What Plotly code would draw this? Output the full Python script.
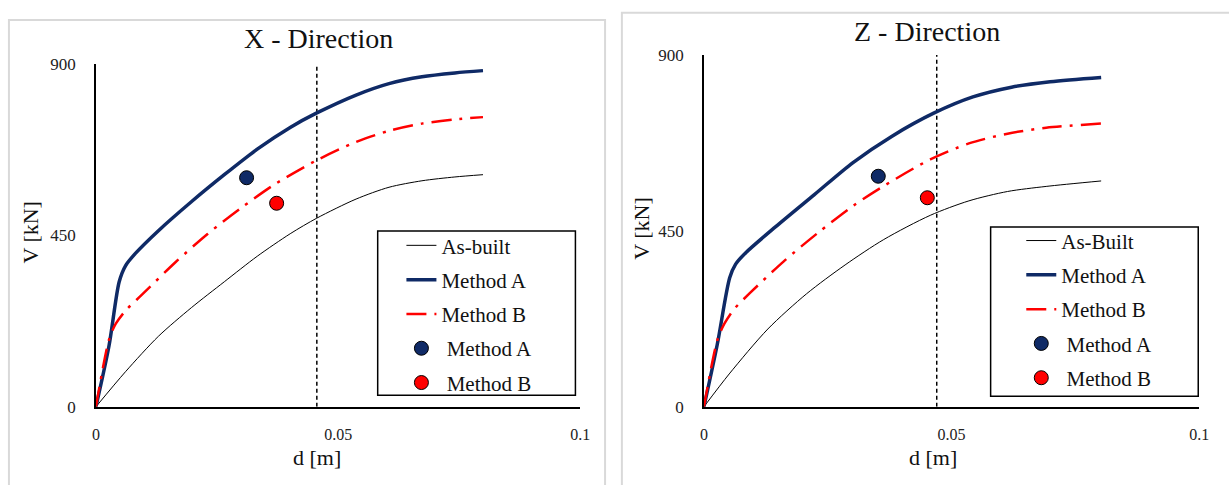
import plotly.graph_objects as go

W, H = 1229, 485

# ---------------- data ----------------
# X - Direction
x_asbuilt_d = [0, 0.0061, 0.0129, 0.0197, 0.0265, 0.0333, 0.0401, 0.0456, 0.0537, 0.0605, 0.0673, 0.0741, 0.0799]
x_asbuilt_v = [0, 92, 185, 260, 328, 395, 454, 495, 545, 576, 593, 603, 609]
x_methA_d = [0, 0.0027, 0.0048, 0.0061, 0.0082, 0.0129, 0.0197, 0.0265, 0.0333, 0.0401, 0.0456, 0.0537, 0.0605, 0.0673, 0.0741, 0.0799]
x_methA_v = [0, 160, 328, 370, 403, 462, 538, 609, 676, 733, 771, 818, 848, 866, 876, 882]
x_methB_d = [0, 0.0027, 0.0041, 0.0061, 0.0095, 0.0163, 0.0231, 0.0299, 0.0367, 0.0456, 0.0537, 0.0605, 0.0673, 0.0741, 0.0799]
x_methB_v = [0, 176, 218, 252, 294, 378, 454, 521, 582, 647, 695, 724, 743, 754, 760]
x_ptA_d, x_ptA_v = [0.0311], [601]
x_ptB_d, x_ptB_v = [0.0373], [534]
x_limit_d = 0.0456

# Z - Direction
z_asbuilt_d = [0, 0.0051, 0.0129, 0.0207, 0.0285, 0.0363, 0.0457, 0.0535, 0.0613, 0.0691, 0.0802]
z_asbuilt_v = [0, 84, 199, 289, 363, 428, 490, 527, 551, 564, 578]
z_methA_d = [0, 0.0027, 0.0052, 0.0064, 0.0085, 0.0145, 0.0223, 0.0301, 0.0379, 0.0465, 0.0543, 0.0621, 0.0699, 0.0802]
z_methA_v = [0, 160, 330, 365, 395, 461, 543, 625, 692, 752, 793, 818, 832, 843]
z_methB_d = [0, 0.0027, 0.0041, 0.0061, 0.0092, 0.0160, 0.0230, 0.0301, 0.0363, 0.0457, 0.0535, 0.0613, 0.0691, 0.0802]
z_methB_v = [0, 170, 212, 250, 290, 371, 445, 514, 565, 633, 674, 699, 714, 725]
z_ptA_d, z_ptA_v = [0.0352], [590]
z_ptB_d, z_ptB_v = [0.0451], [535]
z_limit_d = 0.0470

x_ticks = [0, 0.05, 0.1]
x_ticktext = ["0", "0.05", "0.1"]
y_ticks = [0, 450, 900]

# ---------------- styles ----------------
NAVY = "#0F2A66"
RED = "#FF0000"
SERIF = "Liberation Serif"

fig = go.Figure()

def add_panel(xa, ya, leg, d_ab, v_ab, d_a, v_a, d_b, v_b, pa, pb, lim, ab_name):
    fig.add_trace(go.Scatter(x=[lim, lim], y=[0, 900], mode="lines", xaxis=xa, yaxis=ya,
                             line=dict(color="black", width=1.5, dash="4px,3px"),
                             showlegend=False, hoverinfo="skip"))
    fig.add_trace(go.Scatter(x=d_ab, y=v_ab, mode="lines", name=ab_name, xaxis=xa, yaxis=ya,
                             line=dict(color="black", width=1, shape="spline", smoothing=0.8),
                             legend=leg, legendgroup=leg + "1"))
    fig.add_trace(go.Scatter(x=d_a, y=v_a, mode="lines", name="Method A", xaxis=xa, yaxis=ya,
                             line=dict(color=NAVY, width=3.5, shape="spline", smoothing=0.8),
                             legend=leg, legendgroup=leg + "2"))
    fig.add_trace(go.Scatter(x=d_b, y=v_b, mode="lines", name="Method B", xaxis=xa, yaxis=ya,
                             line=dict(color=RED, width=2.5, dash="20px,8px,3px,8px",
                                       shape="spline", smoothing=0.8),
                             legend=leg, legendgroup=leg + "3"))
    fig.add_trace(go.Scatter(x=pa[0], y=pa[1], mode="markers", name="\u00a0Method A", xaxis=xa, yaxis=ya,
                             marker=dict(color=NAVY, size=14, line=dict(color="black", width=1)),
                             legend=leg, legendgroup=leg + "4"))
    fig.add_trace(go.Scatter(x=pb[0], y=pb[1], mode="markers", name="\u00a0Method B", xaxis=xa, yaxis=ya,
                             marker=dict(color=RED, size=14, line=dict(color="black", width=1)),
                             legend=leg, legendgroup=leg + "5"))

add_panel("x", "y", "legend", x_asbuilt_d, x_asbuilt_v, x_methA_d, x_methA_v, x_methB_d, x_methB_v,
          (x_ptA_d, x_ptA_v), (x_ptB_d, x_ptB_v), x_limit_d, "As-built")
add_panel("x2", "y2", "legend2", z_asbuilt_d, z_asbuilt_v, z_methA_d, z_methA_v, z_methB_d, z_methB_v,
          (z_ptA_d, z_ptA_v), (z_ptB_d, z_ptB_v), z_limit_d, "As-Built")

def px(v):
    return v / W

def py(v):
    return (H - v) / H

xcommon = dict(range=[0, 0.1], tickvals=x_ticks, ticktext=x_ticktext, showgrid=False, zeroline=False,
               showline=True, linecolor="black", linewidth=2, ticks="", ticklabelstandoff=12,
               tickfont=dict(family=SERIF, size=16, color="#222"), fixedrange=True)
ycommon = dict(range=[0, 900], tickvals=y_ticks, showgrid=False, zeroline=False,
               showline=True, linecolor="black", linewidth=1.5, ticks="", ticklabelstandoff=15,
               tickfont=dict(family=SERIF, size=17, color="#222"), fixedrange=True)

legcommon = dict(bgcolor="rgba(0,0,0,0)", borderwidth=0, font=dict(family=SERIF, size=21, color="#111"),
                 tracegroupgap=4, xanchor="left", yanchor="top", itemclick=False)

fig.update_layout(
    width=W, height=H, autosize=False,
    margin=dict(l=0, r=0, t=0, b=0),
    paper_bgcolor="white", plot_bgcolor="rgba(0,0,0,0)",
    xaxis=dict(domain=[px(93), px(583)], anchor="y", **xcommon),
    yaxis=dict(domain=[py(414), py(57)], anchor="x", **ycommon),
    xaxis2=dict(domain=[px(708), px(1209)], anchor="y2", **xcommon),
    yaxis2=dict(domain=[py(414), py(48)], anchor="x2", **ycommon),
    legend=dict(x=px(402), y=py(225), **legcommon),
    legend2=dict(x=px(1029), y=py(220), **legcommon),
    shapes=[
        dict(type="rect", xref="paper", yref="paper", x0=px(5), x1=px(608), y0=-0.2, y1=py(11.5),
             line=dict(color="#D9D9D9", width=2), layer="below"),
        dict(type="rect", xref="paper", yref="paper", x0=px(625), x1=1.2, y0=-0.2, y1=py(4),
             line=dict(color="#D9D9D9", width=2), layer="below"),
        dict(type="rect", xref="paper", yref="paper", x0=px(378), x1=px(578), y0=py(402), y1=py(231),
             line=dict(color="black", width=1.5), fillcolor="white", layer="below"),
        dict(type="rect", xref="paper", yref="paper", x0=px(998), x1=px(1208), y0=py(403), y1=py(227),
             line=dict(color="black", width=1.5), fillcolor="white", layer="below"),
    ],
    annotations=[
        dict(text="X - Direction", x=px(318), y=py(31), xref="paper", yref="paper", showarrow=False,
             font=dict(family=SERIF, size=28, color="#111"), xanchor="center", yanchor="middle"),
        dict(text="Z - Direction", x=px(934), y=py(23), xref="paper", yref="paper", showarrow=False,
             font=dict(family=SERIF, size=28, color="#111"), xanchor="center", yanchor="middle"),
        dict(text="d [m]", x=px(317), y=py(467), xref="paper", yref="paper", showarrow=False,
             font=dict(family=SERIF, size=22, color="#111"), xanchor="center", yanchor="middle"),
        dict(text="d [m]", x=px(940), y=py(467), xref="paper", yref="paper", showarrow=False,
             font=dict(family=SERIF, size=22, color="#111"), xanchor="center", yanchor="middle"),
        dict(text="V [kN]", x=px(27), y=py(232), xref="paper", yref="paper", showarrow=False, textangle=-90,
             font=dict(family=SERIF, size=22, color="#111"), xanchor="center", yanchor="middle"),
        dict(text="V [kN]", x=px(644), y=py(228), xref="paper", yref="paper", showarrow=False, textangle=-90,
             font=dict(family=SERIF, size=22, color="#111"), xanchor="center", yanchor="middle"),
    ],
)

fig.write_html("out.html", post_script="document.body.style.margin='0';document.body.style.overflow='hidden';")
